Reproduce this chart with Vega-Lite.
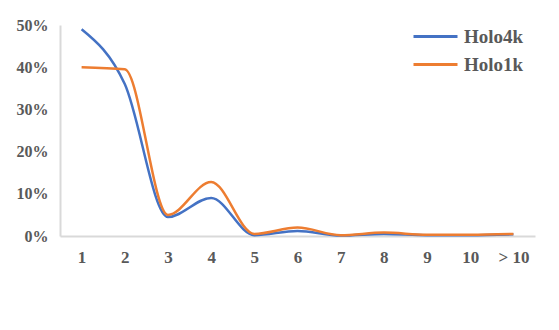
{
  "$schema": "https://vega.github.io/schema/vega-lite/v6.json",
  "width": 475,
  "height": 211,
  "autosize": {"type": "none"},
  "padding": {"left": 60, "top": 25, "right": 24, "bottom": 94},
  "background": "white",
  "config": {
    "view": {"stroke": null},
    "font": "Liberation Serif",
    "axis": {"labelFont": "Liberation Serif", "labelFontWeight": "bold", "labelFontSize": 16, "labelColor": "#595959", "domainColor": "#d9d9d9", "domainWidth": 2, "ticks": false, "grid": false, "title": null}
  },
  "data": {
    "values": [
      {"k": "1", "s": "Holo4k", "v": 0.49}, {"k": "2", "s": "Holo4k", "v": 0.36}, {"k": "3", "s": "Holo4k", "v": 0.045},
      {"k": "4", "s": "Holo4k", "v": 0.09}, {"k": "5", "s": "Holo4k", "v": 0.002}, {"k": "6", "s": "Holo4k", "v": 0.012},
      {"k": "7", "s": "Holo4k", "v": 0.001}, {"k": "8", "s": "Holo4k", "v": 0.005}, {"k": "9", "s": "Holo4k", "v": 0.002},
      {"k": "10", "s": "Holo4k", "v": 0.002}, {"k": "> 10", "s": "Holo4k", "v": 0.004},
      {"k": "1", "s": "Holo1k", "v": 0.40}, {"k": "2", "s": "Holo1k", "v": 0.395}, {"k": "3", "s": "Holo1k", "v": 0.05},
      {"k": "4", "s": "Holo1k", "v": 0.128}, {"k": "5", "s": "Holo1k", "v": 0.005}, {"k": "6", "s": "Holo1k", "v": 0.02},
      {"k": "7", "s": "Holo1k", "v": 0.002}, {"k": "8", "s": "Holo1k", "v": 0.008}, {"k": "9", "s": "Holo1k", "v": 0.003},
      {"k": "10", "s": "Holo1k", "v": 0.003}, {"k": "> 10", "s": "Holo1k", "v": 0.005}
    ]
  },
  "mark": {"type": "line", "interpolate": "monotone", "strokeWidth": 2.5},
  "encoding": {
    "x": {"field": "k", "type": "ordinal", "sort": null, "scale": {"type": "point", "padding": 0.5},
      "axis": {"labelAngle": 0, "labelPadding": 13, "labelFontSize": 17}},
    "y": {"field": "v", "type": "quantitative", "scale": {"domain": [0, 0.5]},
      "axis": {"format": ".0%", "values": [0, 0.1, 0.2, 0.3, 0.4, 0.5], "labelPadding": 12}},
    "color": {"field": "s", "type": "nominal", "sort": ["Holo4k", "Holo1k"],
      "scale": {"domain": ["Holo4k", "Holo1k"], "range": ["#4472C4", "#ED7D31"]},
      "legend": {"title": null, "orient": "none", "legendX": 363, "legendY": -1, "symbolType": "M-2,0H2", "symbolSize": 484, "symbolStrokeWidth": 3,
        "labelFont": "Liberation Serif", "labelFontWeight": "bold", "labelFontSize": 19, "labelColor": "#595959", "rowPadding": 5, "labelOffset": 16}}
  }
}
